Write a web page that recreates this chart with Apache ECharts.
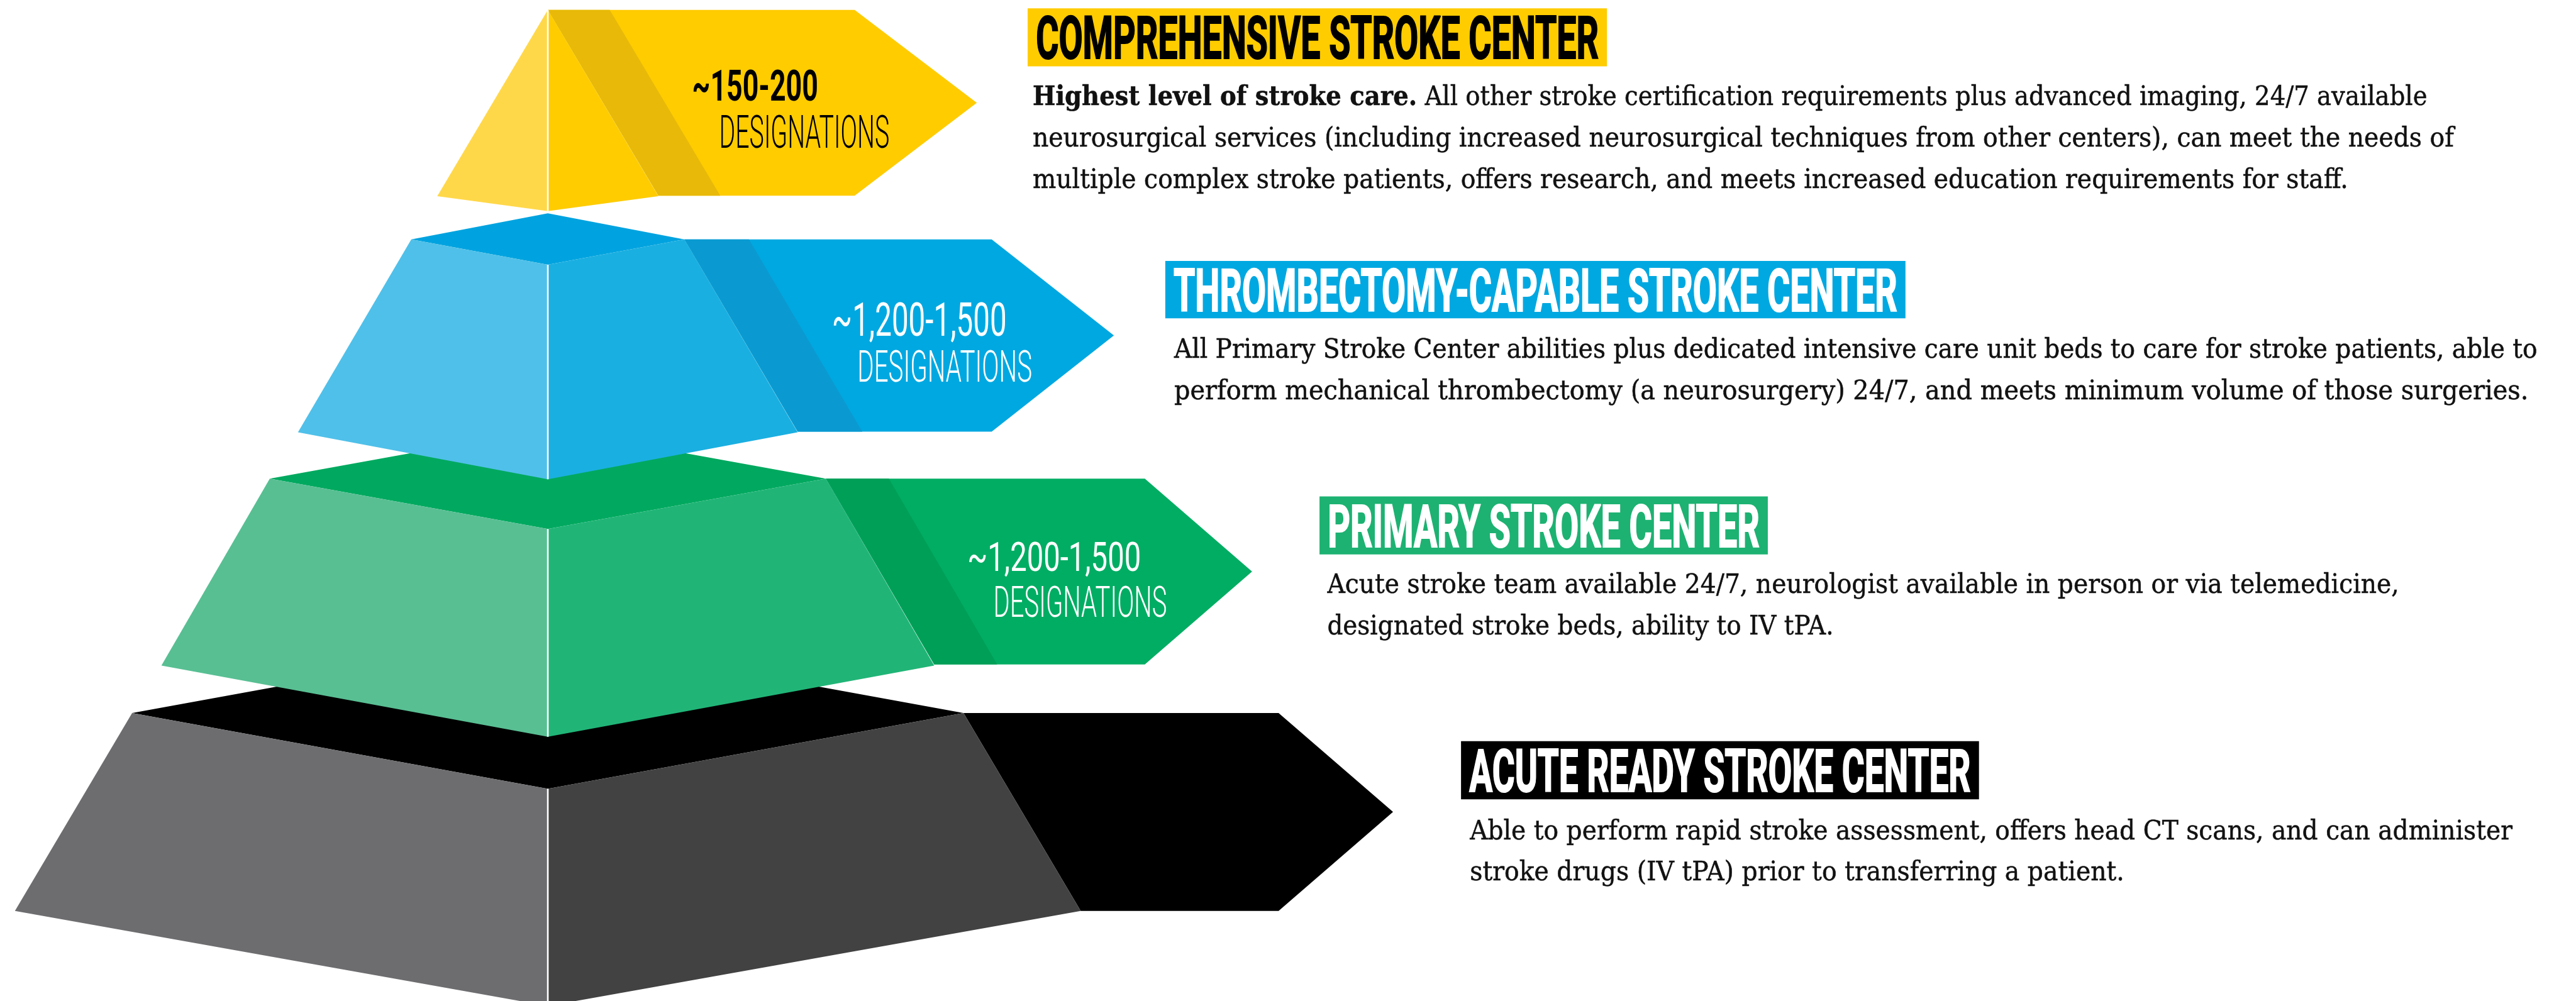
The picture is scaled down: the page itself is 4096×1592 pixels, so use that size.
<!DOCTYPE html>
<html>
<head>
<meta charset="utf-8">
<script src="https://cdn.jsdelivr.net/npm/echarts@6/dist/echarts.min.js"></script>
<style>
  html, body { margin: 0; padding: 0; background: #fff; }
  #chart { width: 4096px; height: 1592px; }
</style>
</head>
<body>
<div id="chart"></div>
<script>
// reference artwork is 4660 x 1811, axes run in those units
const REF_W = 4660
const REF_H = 1811

const tierNames = [
  'COMPREHENSIVE STROKE CENTER',
  'THROMBECTOMY-CAPABLE STROKE CENTER',
  'PRIMARY STROKE CENTER',
  'ACUTE READY STROKE CENTER',
]
const designations = ['~150-200', '~1,200-1,500', '~1,200-1,500', '']
const designationUnit = 'DESIGNATIONS'
const descLead = ['Highest level of stroke care.', '', '', '']
const descLines = [
  [
    ' All other stroke certification requirements plus advanced imaging, 24/7 available',
    'neurosurgical services (including increased neurosurgical techniques from other centers), can meet the needs of',
    'multiple complex stroke patients, offers research, and meets increased education requirements for staff.',
  ],
  [
    'All Primary Stroke Center abilities plus dedicated intensive care unit beds to care for stroke patients, able to',
    'perform mechanical thrombectomy (a neurosurgery) 24/7, and meets minimum volume of those surgeries.',
  ],
  [
    'Acute stroke team available 24/7, neurologist available in person or via telemedicine,',
    'designated stroke beds, ability to IV tPA.',
  ],
  [
    'Able to perform rapid stroke assessment, offers head CT scans, and can administer',
    'stroke drugs (IV tPA) prior to transferring a patient.',
  ],
]
// back tier first so upper tiers overlap it
const drawOrder = [3, 2, 1, 0]

// styles
const palette = [
  { top: '#ffcc00', left: '#ffd84a', right: '#ffcc00', band: '#e8b908', arrow: '#ffcc00', box: '#ffcc00', boxText: '#000', numText: '#000', numWeight: 700 },
  { top: '#00a3df', left: '#4fc0e9', right: '#1aafe1', band: '#0a9ad1', arrow: '#00a8e1', box: '#00a8e1', boxText: '#fff', numText: '#fff', numWeight: 400 },
  { top: '#00a95f', left: '#58bf93', right: '#20b577', band: '#009f58', arrow: '#00ad63', box: '#1db272', boxText: '#fff', numText: '#fff', numWeight: 400 },
  { top: '#000000', left: '#6d6d70', right: '#424242', band: '#000000', arrow: '#000000', box: '#000000', boxText: '#fff', numText: '#fff', numWeight: 400 },
]

// layout, reference units
const CX = 991
const shapes = [
  { apex: 18, side: 18, front: 18, topHalf: 0, baseY: 355, baseHalf: 200, bottom: 382, arrowTop: 18, arrowBot: 354, arrowRight: 1546, tip: 1767, band: 112 },
  { apex: 386, side: 433, front: 479, topHalf: 247, baseY: 782, baseHalf: 452, bottom: 867, arrowTop: 433, arrowBot: 781, arrowRight: 1794, tip: 2015, band: 117 },
  { apex: 775, side: 866, front: 957, topHalf: 503, baseY: 1204, baseHalf: 699, bottom: 1333, arrowTop: 866, arrowBot: 1202, arrowRight: 2071, tip: 2265, band: 114 },
  { apex: 1153, side: 1290, front: 1427, topHalf: 752, baseY: 1648, baseHalf: 964, bottom: 1820, arrowTop: 1290, arrowBot: 1648, arrowRight: 2313, tip: 2520, band: 0 },
]
const titleBoxes = [
  { x: 1859, y: 15, w: 1048, h: 105 },
  { x: 2108, y: 472, w: 1339, h: 104 },
  { x: 2387, y: 898, w: 811, h: 105 },
  { x: 2643, y: 1341, w: 937, h: 105 },
]
const bodyBlocks = [
  { x: 1868, baseline: 190, widths: [2523, 2571, 2380] },
  { x: 2124, baseline: 647, widths: [2466, 2450] },
  { x: 2401, baseline: 1073, widths: [1939, 916] },
  { x: 2659, baseline: 1518, widths: [1886, 1184] },
]
const numPos = [
  { x: 1252, top: 127, bot: 182, w: 228 },
  { x: 1505, top: 547, bot: 607, w: 316 },
  { x: 1750, top: 980, bot: 1033, w: 314 },
  null,
]
const unitPos = [
  { x: 1301, top: 208, bot: 267, w: 308 },
  { x: 1551, top: 633, bot: 690, w: 316 },
  { x: 1797, top: 1060, bot: 1116, w: 314 },
  null,
]
const LINE_GAP = 75
const BODY_SIZE = 48
const BODY_CAP = 35
const TITLE_SIZE = 108
const SANS = 'Roboto, "Liberation Sans Narrow", sans-serif'
const SERIF = '"DejaVu Serif", "Liberation Serif", serif'

const chart = echarts.init(document.getElementById('chart'))
const k = chart.getWidth() / REF_W

const mctx = document.createElement('canvas').getContext('2d')
function measure(font, str) {
  mctx.font = font
  return mctx.measureText(str).width
}
// offset of cap-height centre from the 'middle' baseline zrender draws with
function capShift(font) {
  mctx.font = font
  mctx.textBaseline = 'middle'
  const m = mctx.measureText('H')
  mctx.textBaseline = 'alphabetic'
  return (m.actualBoundingBoxDescent - m.actualBoundingBoxAscent) / 2
}

function renderItem(params, api) {
  const t = api.value(0)
  const g = shapes[t]
  const c = palette[t]
  const P = (x, y) => api.coord([x, y])
  const children = []
  const poly = (pts, fill) => children.push({
    type: 'polygon',
    shape: { points: pts.map(p => P(p[0], p[1])) },
    style: { fill },
  })
  const text = (str, x, mid, size, weight, family, targetW, fill, extra) => {
    const font = `${weight} ${size * k}px ${family}`
    const w = measure(font, str)
    const p = P(x, mid)
    children.push({
      type: 'text',
      x: p[0],
      y: p[1] - capShift(font),
      scaleX: (targetW * k) / w,
      style: Object.assign({ text: str, font, fill, align: 'left', verticalAlign: 'middle' }, extra || {}),
    })
  }

  // arrow + shadow band
  const mid = (g.arrowTop + g.arrowBot) / 2
  poly([[CX + g.topHalf, g.arrowTop], [g.arrowRight, g.arrowTop], [g.tip, mid], [g.arrowRight, g.arrowBot], [CX + g.baseHalf, g.arrowBot]], c.arrow)
  if (g.band) {
    poly([[CX + g.topHalf, g.arrowTop], [CX + g.topHalf + g.band, g.arrowTop], [CX + g.baseHalf + g.band, g.arrowBot], [CX + g.baseHalf, g.arrowBot]], c.band)
  }
  // pyramid block
  if (g.topHalf) {
    poly([[CX, g.apex], [CX + g.topHalf, g.side], [CX, g.front], [CX - g.topHalf, g.side]], c.top)
  }
  poly([[CX, g.front], [CX - g.topHalf, g.side], [CX - g.baseHalf, g.baseY], [CX, g.bottom]], c.left)
  poly([[CX, g.front], [CX + g.topHalf, g.side], [CX + g.baseHalf, g.baseY], [CX, g.bottom]], c.right)
  const a = P(CX, g.front)
  const b = P(CX, g.bottom)
  children.push({ type: 'line', shape: { x1: a[0], y1: a[1], x2: b[0], y2: b[1] }, style: { stroke: '#fff', lineWidth: 3 * k } })

  // designation counts
  if (numPos[t] && designations[t]) {
    const n = numPos[t]
    const u = unitPos[t]
    text(designations[t], n.x, (n.top + n.bot) / 2, (n.bot - n.top) / 0.711, c.numWeight, SANS, n.w, c.numText)
    text(designationUnit, u.x, (u.top + u.bot) / 2, (u.bot - u.top) / 0.711, 300, SANS, u.w, c.numText)
  }

  // title box
  const bx = titleBoxes[t]
  const p0 = P(bx.x, bx.y)
  const p1 = P(bx.x + bx.w, bx.y + bx.h)
  children.push({ type: 'rect', shape: { x: p0[0], y: p0[1], width: p1[0] - p0[0], height: p1[1] - p0[1] }, style: { fill: c.box } })
  text(tierNames[t], bx.x + 15, bx.y + bx.h / 2, TITLE_SIZE, 'bold', SANS, bx.w - 30, c.boxText, { stroke: c.boxText, lineWidth: 2.5 * k })

  // description
  const blk = bodyBlocks[t]
  const bodyStyle = { stroke: '#111', lineWidth: 0.6 * k }
  descLines[t].forEach((line, i) => {
    const midY = blk.baseline + i * LINE_GAP - BODY_CAP / 2
    if (i === 0 && descLead[t]) {
      const fb = `bold ${BODY_SIZE * k}px ${SERIF}`
      const fr = `normal ${BODY_SIZE * k}px ${SERIF}`
      const wb = measure(fb, descLead[t])
      const wr = measure(fr, line)
      const f = (blk.widths[i] * k) / (wb + wr)
      const p = P(blk.x, midY)
      const y = p[1] - capShift(fr)
      children.push({ type: 'text', x: p[0], y, scaleX: f, style: Object.assign({ text: descLead[t], font: fb, fill: '#111', align: 'left', verticalAlign: 'middle' }, bodyStyle) })
      children.push({ type: 'text', x: p[0] + wb * f, y, scaleX: f, style: Object.assign({ text: line, font: fr, fill: '#111', align: 'left', verticalAlign: 'middle' }, bodyStyle) })
    } else {
      text(line, blk.x, midY, BODY_SIZE, 'normal', SERIF, blk.widths[i], '#111', bodyStyle)
    }
  })

  return { type: 'group', children }
}

chart.setOption({
  animation: false,
  grid: { left: 0, right: 0, top: 0, bottom: 0 },
  xAxis: { type: 'value', min: 0, max: REF_W, show: false },
  yAxis: { type: 'value', min: 0, max: REF_H, inverse: true, show: false },
  series: [
    {
      type: 'custom',
      coordinateSystem: 'cartesian2d',
      clip: false,
      renderItem,
      data: drawOrder.map(i => [i, 0]),
    },
  ],
})
</script>
</body>
</html>
